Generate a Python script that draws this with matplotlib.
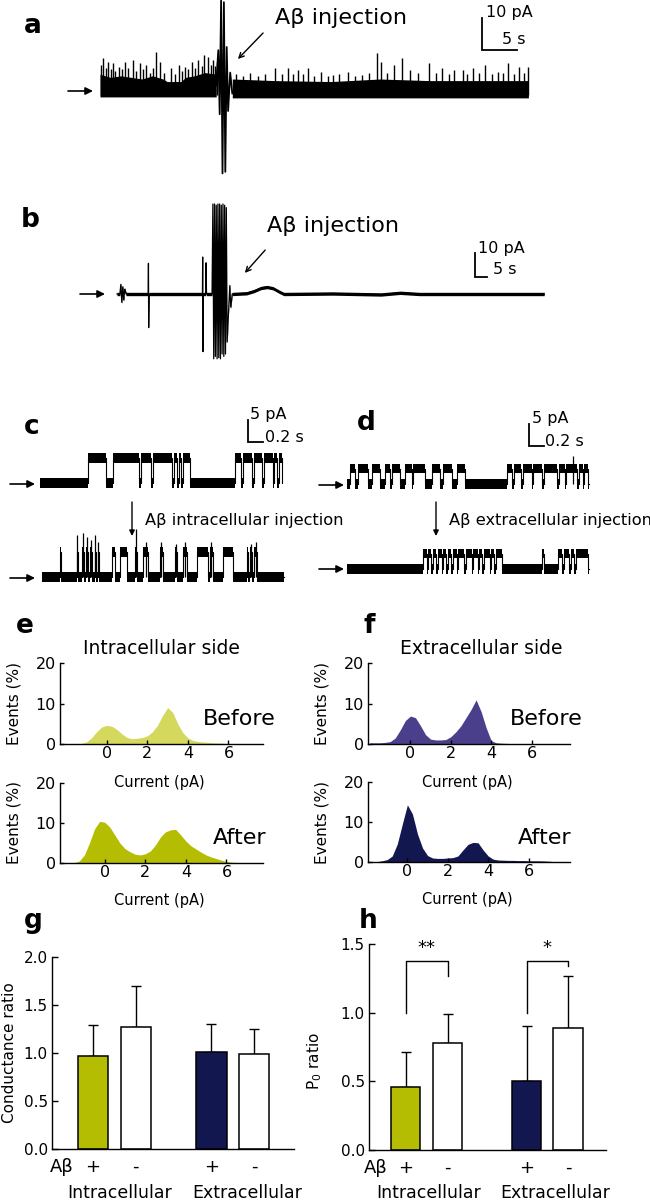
import matplotlib
matplotlib.use("Agg")
import matplotlib.pyplot as plt
import numpy as np

plt.rcParams.update({
    "font.family": "DejaVu Sans",
    "mathtext.default": "regular",
    "axes.linewidth": 1.0,
})

# ── Data ──────────────────────────────────────────────────────────────────────
# a: long recording (s, pA); dense band + spike tops, injection artefact
a_pre_env_t  = [0.0, 1.5, 3.0, 4.5, 6.0, 7.5, 9.0, 9.6, 11.6, 12.2, 13.5, 15.0, 16.6]
a_pre_env_hi = [6.5, 5.5, 6.0, 5.5, 5.0, 6.0, 5.0, 4.2, 4.2, 5.5, 6.0, 7.0, 6.5]
a_pre_t  = [0.2, 0.4, 0.8, 1.1, 1.5, 1.8, 2.2, 2.7, 3.1, 3.6, 4.0, 4.7, 5.2, 5.7, 6.1,
            6.6, 7.1, 7.6, 8.0, 8.6, 9.2, 10.1, 10.7, 11.3, 11.7, 12.1, 12.6, 13.1,
            13.6, 14.0, 14.5, 14.9, 15.4, 15.8, 16.1, 16.4, 16.7]
a_pre_pk = [9.5, 11.6, 8.5, 10.3, 8.0, 10.0, 7.5, 8.8, 8.0, 10.3, 8.5, 10.9, 7.5, 10.0, 8.0,
            9.4, 7.0, 8.5, 13.4, 10.3, 7.0, 8.4, 6.5, 9.4, 7.5, 8.8, 8.0, 10.3,
            8.5, 10.9, 9.0, 12.5, 11.9, 9.5, 10.9, 9.0, 10.3]
a_art_t = [16.6, 16.9, 17.1, 17.3, 17.5, 17.7, 17.9, 18.1, 18.3, 18.6, 18.9]
a_art_v = [3.0, 14.0, -6.0, 29.5, -24.5, 29.0, -24.0, 15.0, -5.0, 7.0, 0.5]
a_post_env_t  = [18.9, 25.0, 33.0, 40.0, 47.0, 55.0, 61.2]
a_post_env_hi = [5.0, 4.5, 4.2, 5.0, 4.5, 4.5, 4.5]
a_post_t  = [19.5, 20.5, 21.5, 22.5, 23.5, 25.0, 26.0, 26.8, 27.5, 28.3, 29.0, 29.7, 30.6,
             31.6, 32.5, 33.3, 34.2, 35.4, 36.4, 37.5, 38.5, 39.6, 40.1, 41.0, 42.0, 43.1,
             44.3, 45.5, 47.0, 48.0, 48.9, 49.8, 50.6, 51.8, 52.5, 53.3, 54.2, 55.0, 56.0,
             56.9, 57.6, 58.3, 59.1, 59.9, 60.6, 61.1]
a_post_pk = [6.5, 6.0, 7.0, 6.0, 6.5, 8.4, 6.5, 8.4, 6.5, 7.8, 6.5, 8.4, 6.0,
             7.2, 6.0, 6.2, 6.5, 7.2, 6.0, 6.2, 7.0, 13.1, 10.3, 7.0, 9.4, 11.6,
             7.8, 7.0, 10.0, 7.0, 8.4, 6.5, 7.8, 7.8, 6.5, 8.4, 7.0, 9.4, 6.5,
             7.2, 7.0, 10.0, 6.5, 8.8, 7.0, 8.8]

# b: recording with injection artefact (s, pA)
b_t = [0.0, 1.2, 1.6, 2.0, 2.4, 2.8, 3.2, 3.8, 13.0, 13.1, 13.2, 13.4, 35.6, 35.7, 35.8,
       36.0, 37.0, 37.1, 37.3, 39.6, 39.95, 40.3, 40.65, 41.0, 41.35, 41.7, 42.05, 42.4,
       42.75, 43.1, 43.45, 43.8, 44.15, 44.5, 44.85, 45.2, 45.55, 45.9, 46.4, 47.0, 47.4,
       48.0, 54.0, 57.0, 60.0, 62.5, 65.0, 67.5, 69.5, 90.0, 110.0, 118.0, 126.0, 150.0,
       178.0]
b_v = [0.0, 0.0, 4.0, -3.5, 3.0, -2.5, 2.0, 0.0, 0.0, 12.8, -14.0, 0.0, 0.0, 15.4, -24.0,
       0.0, 0.0, 13.0, 0.0, 0.0, 37.5, -27.0, 37.5, -26.0, 37.0, -27.0, 37.5, -26.5,
       37.5, -27.0, 37.0, -25.0, 37.5, -26.0, 37.0, -25.0, 36.0, -20.0, -9.0, 3.5, -5.5,
       0.0, 0.3, 1.2, 2.5, 2.9, 2.4, 1.0, 0.0, 0.2, -0.2, 0.5, 0.0, 0.0,
       0.0]

# c, d: single-channel records (s); open intervals
c_top_open = [(0.64, 0.88), (0.97, 1.32), (1.34, 1.48), (1.50, 1.76), (1.78, 1.83),
              (1.85, 1.88), (1.90, 2.00), (2.60, 2.68), (2.70, 2.83), (2.85, 2.96),
              (2.98, 3.10), (3.12, 3.16), (3.18, 3.23)]
c_bot_open = [(0.24, 0.25), (0.46, 0.48), (0.53, 0.56), (0.59, 0.61), (0.64, 0.66),
              (0.70, 0.72), (0.74, 0.76), (0.93, 0.97), (1.04, 1.13), (1.24, 1.27),
              (1.35, 1.41), (1.57, 1.61), (1.77, 1.80), (1.88, 1.93), (2.07, 2.21),
              (2.24, 2.28), (2.41, 2.55), (2.73, 2.75), (2.78, 2.80), (2.83, 2.87)]
c_bot_spk_t = [0.47, 0.545, 0.60, 0.65, 0.71, 0.75, 1.255, 1.38, 1.59, 1.785, 1.90, 2.26, 2.79, 2.85]
c_bot_spk_v = [9.5, 10.0, 9.0, 8.5, 9.5, 8.0, 11.0, 8.0, 8.0, 7.5, 8.0, 8.0, 7.5, 8.0]
d_top_open = [(0.04, 0.11), (0.15, 0.28), (0.33, 0.44), (0.51, 0.57), (0.60, 0.71),
              (0.77, 0.87), (0.88, 1.04), (1.13, 1.24), (1.28, 1.40), (1.47, 1.57),
              (2.13, 2.20), (2.22, 2.32), (2.34, 2.46), (2.48, 2.60), (2.62, 2.80),
              (2.82, 2.90), (2.92, 3.07), (3.09, 3.14), (3.16, 3.21)]
d_top_spk_t = [3.01]
d_top_spk_v = [6.3]
d_bot_open = [(1.01, 1.06), (1.08, 1.12), (1.14, 1.19), (1.21, 1.26), (1.28, 1.32),
              (1.34, 1.39), (1.41, 1.46), (1.48, 1.56), (1.58, 1.66), (1.68, 1.74),
              (1.76, 1.80), (1.82, 1.90), (1.92, 1.96), (1.98, 2.07), (2.60, 2.63),
              (2.81, 2.87), (2.89, 2.96), (2.98, 3.03), (3.05, 3.21)]
C_OPEN, D_OPEN = 5.7, 3.5
T_END = 3.22

# e, f: all-points histograms (pA, % events)
hist_x = np.arange(-2.0, 7.51, 0.25)
e_before = [0, 0, 0, 0.1, 0.5, 1.5, 3.0, 4.2, 4.6, 4.4, 3.6, 2.5, 1.6, 1.3, 1.4, 1.6, 2.0,
            3.0, 4.6, 7.0, 9.0, 7.8, 5.0, 2.8, 1.5, 0.9, 0.6, 0.5, 0.4, 0.3, 0.25, 0.2,
            0.1, 0, 0, 0, 0, 0, 0]
e_after = [0, 0, 0.1, 0.5, 2.0, 5.0, 8.5, 10.4, 10.2, 9.0, 7.0, 5.0, 3.6, 2.8, 2.2, 2.0,
           2.3, 3.0, 4.5, 6.5, 7.8, 8.3, 8.4, 7.0, 5.5, 4.3, 3.5, 2.7, 2.0, 1.5, 1.1,
           0.7, 0.4, 0.2, 0.15, 0.1, 0.05, 0, 0]
f_before = [0.3, 0.3, 0.3, 0.4, 0.6, 1.5, 3.5, 5.8, 6.9, 6.5, 4.5, 2.3, 1.2, 1.0, 1.0, 1.1,
            1.8, 3.0, 4.5, 6.5, 8.5, 10.9, 8.0, 4.0, 0.8, 0.3, 0.2, 0.15, 0.1, 0.1, 0.1,
            0.1, 0.1, 0.1, 0.05, 0.05, 0.05, 0.05, 0]
f_after = [0, 0, 0.1, 0.3, 0.6, 1.5, 4.5, 9.5, 14.3, 12.0, 7.0, 3.5, 1.6, 1.0, 0.9, 0.9,
           1.0, 1.1, 1.5, 3.0, 4.4, 4.9, 4.8, 3.0, 1.5, 0.7, 0.5, 0.45, 0.4, 0.4, 0.35,
           0.35, 0.3, 0.3, 0.3, 0.25, 0.2, 0.1, 0]

# g, h: ratios (mean, SD); order: intra +, intra -, extra +, extra -
g_mean = [0.97, 1.27, 1.01, 0.99]
g_sd   = [0.32, 0.43, 0.29, 0.26]
h_mean = [0.46, 0.78, 0.50, 0.89]
h_sd   = [0.25, 0.21, 0.40, 0.38]
ab_signs = ["+", "-", "+", "-"]
groups = ["Intracellular", "Extracellular"]

YEL_LIGHT, YEL = "#d4d85c", "#b5bd02"
PUR_LIGHT, NAVY = "#4a3f8b", "#13174f"
BAR_COLORS = [YEL, "white", NAVY, "white"]

# ── Figure / helpers (pixel layout) ──────────────────────────────────────────
W, H = 650, 1204
fig = plt.figure(figsize=(W / 100, H / 100), dpi=100)


def px_axes(x0, y0, x1, y1):
    ax = fig.add_axes([x0 / W, 1 - y1 / H, (x1 - x0) / W, (y1 - y0) / H])
    ax.patch.set_alpha(0)
    return ax


def trace_axes(x0, x1, y0, y1, t0_px, base_px, px_s, px_pa):
    ax = px_axes(x0, y0, x1, y1)
    ax.set_xlim((x0 - t0_px) / px_s, (x1 - t0_px) / px_s)
    ax.set_ylim((base_px - y1) / px_pa, (base_px - y0) / px_pa)
    ax.axis("off")
    return ax


def step_trace(intervals, t_end, amp):
    t, v = [0.0], [0.0]
    for s, e in intervals:
        t += [s, s, e, e]
        v += [0, amp, amp, 0]
    t.append(t_end)
    v.append(0)
    return np.array(t), np.array(v)


def draw_channel(ax, intervals, amp, noise=1.1, spk_t=(), spk_v=()):
    t, v = step_trace(intervals, T_END, amp)
    ax.fill_between(t, v - noise, v + noise, color="k", lw=0)
    ax.plot(t, v, color="k", lw=0.8)
    if len(spk_t):
        ax.vlines(spk_t, 0, spk_v, color="k", lw=0.9)


def scale_bar(ax, x, y, dx, dy):
    ax.plot([x, x, x + dx], [y + dy, y, y], color="k", lw=1.3,
            solid_joinstyle="miter", clip_on=False)


# ── a ────────────────────────────────────────────────────────────────────────
ax = trace_axes(95, 535, 0, 182, 100, 95, 7.0, 3.2)
ax.fill_between(a_pre_env_t, -0.6, a_pre_env_hi, color="k", lw=0)
ax.vlines(a_pre_t, 0, a_pre_pk, color="k", lw=1.0)
ax.fill_between(a_post_env_t, -0.9, a_post_env_hi, color="k", lw=0)
ax.vlines(a_post_t, 0, a_post_pk, color="k", lw=1.0)
ax.plot(a_art_t, a_art_v, color="k", lw=1.3)
scale_bar(ax, (482 - 100) / 7.0, (95 - 50) / 3.2, 5, 10)

# ── b ────────────────────────────────────────────────────────────────────────
ax = trace_axes(110, 550, 195, 375, 117, 294, 2.4, 2.4)
bt, bv = np.array(b_t), np.array(b_v)
ax.fill_between(bt, bv - 0.7, bv + 0.7, color="k", lw=0)
ax.plot(bt, bv, color="k", lw=0.9)
scale_bar(ax, (475 - 117) / 2.4, (294 - 277) / 2.4, 5, 10)

# ── c, d ─────────────────────────────────────────────────────────────────────
ax = trace_axes(38, 300, 400, 505, 40, 483, 75, 4.4)
draw_channel(ax, c_top_open, C_OPEN)
scale_bar(ax, (248 - 40) / 75, (483 - 442) / 4.4, 0.2, 5)
ax = trace_axes(40, 300, 520, 605, 42, 577, 75, 4.4)
draw_channel(ax, c_bot_open, C_OPEN, spk_t=c_bot_spk_t, spk_v=c_bot_spk_v)
ax = trace_axes(345, 605, 400, 505, 347, 484, 75, 4.4)
draw_channel(ax, d_top_open, D_OPEN, spk_t=d_top_spk_t, spk_v=d_top_spk_v)
scale_bar(ax, (529 - 347) / 75, (484 - 446) / 4.4, 0.2, 5)
ax = trace_axes(345, 605, 520, 605, 347, 569, 75, 4.4)
draw_channel(ax, d_bot_open, D_OPEN)


# ── e, f ─────────────────────────────────────────────────────────────────────
def hist_axes(box, xlim, vals, color):
    ax = px_axes(*box)
    ax.fill_between(hist_x, 0, vals, color=color, lw=0)
    ax.set_xlim(*xlim)
    ax.set_ylim(0, 20)
    for s in ("top", "right"):
        ax.spines[s].set_visible(False)
    ax.spines["left"].set_linewidth(1.0)
    ax.spines["bottom"].set_linewidth(1.0)
    ax.set_yticks([0, 10, 20])
    ax.set_xticks([0, 2, 4, 6])
    ax.tick_params(direction="in", length=3, width=1.0, labelsize=11.5)
    ax.tick_params(axis="x", pad=1.5)
    ax.tick_params(axis="y", pad=3)
    ax.set_ylabel("Events (%)", fontsize=11)
    ax.set_xlabel("Current (pA)", fontsize=10.5, labelpad=0)
    ax.yaxis.set_label_coords(-0.19, 0.5)
    ax.xaxis.set_label_coords(0.49, -0.38)
    return ax


hist_axes((60, 663, 263, 744), (-2.3, 7.7), e_before, YEL_LIGHT)
hist_axes((60, 783, 263, 863), (-2.2, 7.8), e_after, YEL)
hist_axes((368, 663, 570, 744), (-2.1, 7.9), f_before, PUR_LIGHT)
hist_axes((368, 782, 570, 862), (-1.95, 8.05), f_after, NAVY)


# ── g, h ─────────────────────────────────────────────────────────────────────
def bar_axes(box, pos, width, xlim, ymax, yticks, means, sds, ylabel, ylab_xy,
             sign_y, group_y, group_x, ab_x):
    ax = px_axes(*box)
    ax.bar(pos, means, width=width, color=BAR_COLORS, edgecolor="k", linewidth=1.1,
           zorder=2)
    ax.errorbar(pos, means, yerr=[np.zeros(len(sds)), sds], fmt="none", ecolor="k",
                elinewidth=1.0, capsize=3.5, capthick=1.0, zorder=1)
    ax.set_xlim(*xlim)
    ax.set_ylim(0, ymax)
    for s in ("top", "right"):
        ax.spines[s].set_visible(False)
    ax.set_xticks([])
    ax.set_yticks(yticks)
    ax.set_yticklabels([f"{v:.1f}" for v in yticks])
    ax.tick_params(axis="y", direction="in", length=4, width=1.0, labelsize=11, pad=3)
    ax.set_ylabel(ylabel, fontsize=11)
    ax.yaxis.set_label_coords(*ylab_xy)
    tr = ax.get_xaxis_transform()
    ax.text(ab_x, sign_y, "Aβ", transform=tr, ha="center", va="center", fontsize=13)
    for p, s in zip(pos, ab_signs):
        ax.text(p, sign_y, s, transform=tr, ha="center", va="center", fontsize=13)
    for gx, g in zip(group_x, groups):
        ax.text(gx, group_y, g, transform=tr, ha="center", va="center", fontsize=12.5)
    return ax


bar_axes((52, 957, 294, 1149), [0, 1, 2.76, 3.75], 0.70, (-0.95, 4.68), 2.0,
         [0.0, 0.5, 1.0, 1.5, 2.0], g_mean, g_sd, "Conductance ratio", (-0.145, 0.5),
         -0.094, -0.229, [0.62, 3.6], -0.72)
axh = bar_axes((369, 944, 606, 1150), [0, 1, 2.88, 3.87], 0.71, (-0.87, 4.77), 1.5,
               [0.0, 0.5, 1.0, 1.5], h_mean, h_sd, "P$_0$ ratio", (-0.19, 0.43),
               -0.087, -0.209, [0.56, 3.56], -0.70)
# significance brackets
for (x0, x1), y_end, star in [((0, 1), 1.27, "**"), ((2.88, 3.87), 1.34, "*")]:
    axh.plot([x0, x0, x1, x1], [1.0, 1.375, 1.375, y_end], color="k", lw=1.0,
             clip_on=False)
    axh.text((x0 + x1) / 2, 1.405, star, ha="center", va="bottom", fontsize=13)

# ── Overlay: panel letters, labels, arrows ───────────────────────────────────
ov = fig.add_axes([0, 0, 1, 1])
ov.set_xlim(0, W)
ov.set_ylim(H, 0)
ov.axis("off")
ov.patch.set_alpha(0)

for letter, x, y in [("a", 24, 33), ("b", 21, 227), ("c", 24, 434), ("d", 357, 430),
                     ("e", 16, 633), ("f", 363, 633), ("g", 24, 928), ("h", 359, 928)]:
    ov.text(x, y, letter, fontsize=19, fontweight="bold", ha="left", va="baseline")

for x, y, s in [(275, 18, "Aβ injection"), (267, 226, "Aβ injection")]:
    ov.text(x, y, s, fontsize=16, ha="left", va="center")
for x, y, s in [(486, 13, "10 pA"), (502, 40, "5 s"), (478, 248, "10 pA"),
                (493, 270, "5 s"), (250, 414, "5 pA"), (265, 438, "0.2 s"),
                (532, 418, "5 pA"), (545, 442, "0.2 s")]:
    ov.text(x, y, s, fontsize=11.5, ha="left", va="center")

ov.text(145, 521, "Aβ intracellular injection", fontsize=11.7, ha="left", va="center")
ov.text(449, 521, "Aβ extracellular injection", fontsize=11.7, ha="left", va="center")
ov.text(161, 648, "Intracellular side", fontsize=13.5, ha="center", va="center")
ov.text(481, 648, "Extracellular side", fontsize=13.5, ha="center", va="center")
for x, y, s in [(203, 719, "Before"), (510, 719, "Before"), (213, 838, "After"),
                (518, 838, "After")]:
    ov.text(x, y, s, fontsize=16, ha="left", va="center")

# diagonal pointer arrows
for (x0, y0), (x1, y1) in [((265, 31), (236, 61)), ((267, 248), (243, 275))]:
    ov.annotate("", xy=(x1, y1), xytext=(x0, y0),
                arrowprops=dict(arrowstyle="->", lw=1.0, color="k", mutation_scale=9))
# baseline arrows
for x0, x1, y in [(68, 93, 91), (80, 105, 294), (10, 35, 484), (10, 35, 578),
                  (319, 344, 485), (319, 344, 569)]:
    ov.annotate("", xy=(x1, y), xytext=(x0, y),
                arrowprops=dict(arrowstyle="-|>", lw=1.2, color="k", mutation_scale=11,
                                shrinkA=0, shrinkB=0))
# downward injection arrows
for x in (132, 436):
    ov.annotate("", xy=(x, 536), xytext=(x, 502),
                arrowprops=dict(arrowstyle="-|>", lw=1.0, color="k", mutation_scale=8,
                                shrinkA=0, shrinkB=0))

fig.savefig("out.png", dpi=100)
